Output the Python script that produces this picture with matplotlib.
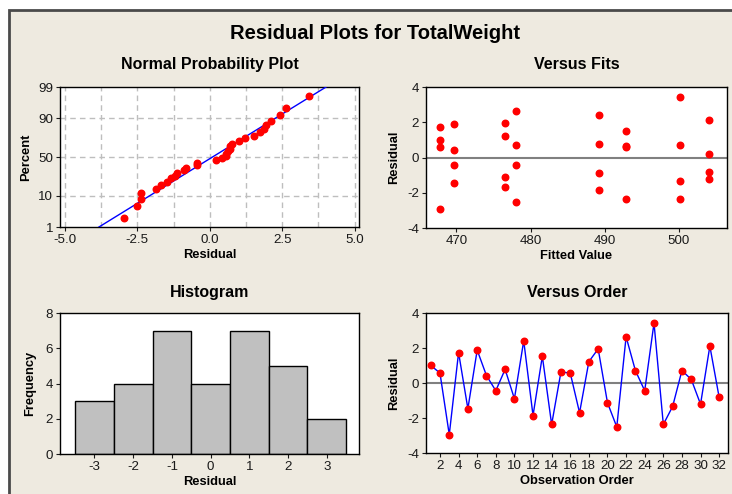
import matplotlib
matplotlib.use("Agg")
import matplotlib.pyplot as plt
import numpy as np
from statistics import NormalDist
from matplotlib.patches import Rectangle

# ---------------- data ----------------
observation = list(range(1, 33))
residuals = [1.01, 0.57, -2.95, 1.74, -1.47, 1.88, 0.42, -0.44,
             0.78, -0.90, 2.41, -1.86, 1.53, -2.37, 0.63, 0.57,
             -1.70, 1.22, 1.95, -1.13, -2.51, 2.64, 0.71, -0.44,
             3.43, -2.37, -1.34, 0.71, 0.21, -1.21, 2.11, -0.82]
fitted = [467.8, 467.8, 467.8, 467.8, 469.7, 469.7, 469.7, 469.7,
          489.2, 489.2, 489.2, 489.2, 492.9, 492.9, 492.9, 492.9,
          476.5, 476.5, 476.5, 476.5, 478.1, 478.1, 478.1, 478.1,
          500.2, 500.2, 500.2, 500.2, 504.1, 504.1, 504.1, 504.1]
hist_mid = [-3, -2, -1, 0, 1, 2, 3]
hist_counts = [3, 4, 7, 4, 7, 5, 2]
pct_ticks = [1, 10, 50, 90, 99]

BEIGE = "#EEEAE0"
plt.rcParams['font.family'] = ['Liberation Sans', 'DejaVu Sans']
plt.rcParams['axes.unicode_minus'] = False

fig = plt.figure(figsize=(7.32, 4.94), dpi=100)
fig.patch.set_facecolor("white")
W, H = 732.0, 494.0
fig.patches.append(Rectangle((8.5 / W, -0.05), 1.1, (494 - 9.5) / H + 0.05,
                             transform=fig.transFigure, facecolor=BEIGE,
                             edgecolor="#4a4a4a", linewidth=2, zorder=-10))

def axbox(l, t, r, b):
    return fig.add_axes([l / W, 1 - b / H, (r - l) / W, (b - t) / H])

TICK_FS = 9.6
LAB_FS = 9.3
TITLE_FS = 11.5
MS = 4.7

def style(ax):
    ax.set_facecolor("white")
    for s in ax.spines.values():
        s.set_color("black")
        s.set_linewidth(1.0)
    ax.tick_params(axis='both', direction='out', length=3, width=0.8,
                   labelsize=TICK_FS, colors='#1a1a1a', pad=2)
    ax.tick_params(top=False, right=False)

fig.text(375 / W, 1 - 39.4 / H, "Residual Plots for TotalWeight", ha='center', va='baseline',
         fontsize=14.5, fontweight='bold')

# ---- Normal probability plot ----
ax1 = axbox(60, 87, 359, 227)
style(ax1)
nd = NormalDist()
r_sorted = np.sort(np.array(residuals))
n = len(r_sorted)
p = (np.arange(1, n + 1) - 0.3) / (n + 0.4)
z = np.array([nd.inv_cdf(v) for v in p])
mu = float(np.mean(residuals))
sd = float(np.std(residuals, ddof=1))
zl = np.array([nd.inv_cdf(0.01), nd.inv_cdf(0.99)])
ax1.plot(mu + sd * zl, zl, color="#0000FF", lw=1.0, zorder=3)
ax1.plot(r_sorted, z, 'o', color="#FF0000", ms=MS, mec="#FF0000", zorder=4)
ax1.set_xlim(-5.17, 5.15)
ax1.set_ylim(nd.inv_cdf(0.01), nd.inv_cdf(0.99))
ax1.set_xticks([-5.0, -2.5, 0.0, 2.5, 5.0])
ax1.set_xticklabels(["-5.0", "-2.5", "0.0", "2.5", "5.0"])
ax1.set_yticks([nd.inv_cdf(v / 100) for v in pct_ticks])
ax1.set_yticklabels([str(v) for v in pct_ticks])
for gx in np.arange(-5, 5.01, 1.25):
    ax1.axvline(gx, color="#BEBEBE", lw=1.0, ls=(0, (4, 3)), zorder=1)
for gp in [10, 50, 90]:
    ax1.axhline(nd.inv_cdf(gp / 100), color="#BEBEBE", lw=1.0, ls=(0, (4, 3)), zorder=1)
ax1.set_title("Normal Probability Plot", fontsize=TITLE_FS, fontweight='bold', pad=13)
ax1.set_xlabel("Residual", fontsize=LAB_FS, fontweight='bold', labelpad=2)
ax1.set_ylabel("Percent", fontsize=LAB_FS, fontweight='bold', labelpad=4)

# ---- Versus Fits ----
ax2 = axbox(426, 87, 727, 228)
style(ax2)
ax2.axhline(0, color="#808080", lw=1.5, zorder=1)
ax2.plot(fitted, residuals, 'o', color="#FF0000", ms=MS, zorder=3)
ax2.set_xlim(465.9, 506.5)
ax2.set_ylim(-4, 4)
ax2.set_xticks([470, 480, 490, 500])
ax2.set_yticks([-4, -2, 0, 2, 4])
ax2.set_title("Versus Fits", fontsize=TITLE_FS, fontweight='bold', pad=13)
ax2.set_xlabel("Fitted Value", fontsize=LAB_FS, fontweight='bold', labelpad=2)
ax2.set_ylabel("Residual", fontsize=LAB_FS, fontweight='bold', labelpad=5)

# ---- Histogram ----
ax3 = axbox(60, 313, 359, 454)
style(ax3)
ax3.bar(hist_mid, hist_counts, width=1.0, color="#C0C0C0", edgecolor="black", linewidth=1.0, zorder=2)
ax3.set_xlim(-3.89, 3.83)
ax3.set_ylim(0, 8)
ax3.set_xticks(hist_mid)
ax3.set_yticks([0, 2, 4, 6, 8])
ax3.set_title("Histogram", fontsize=TITLE_FS, fontweight='bold', pad=11.5)
ax3.set_xlabel("Residual", fontsize=LAB_FS, fontweight='bold', labelpad=2)
ax3.set_ylabel("Frequency", fontsize=LAB_FS, fontweight='bold', labelpad=7)

# ---- Versus Order ----
ax4 = axbox(426, 313, 728, 453)
style(ax4)
ax4.axhline(0, color="#808080", lw=1.5, zorder=1)
ax4.plot(observation, residuals, '-', color="#0000FF", lw=1.0, zorder=2)
ax4.plot(observation, residuals, 'o', color="#FF0000", ms=MS, zorder=3)
ax4.set_xlim(0.5, 32.95)
ax4.set_ylim(-4, 4)
ax4.set_xticks(list(range(2, 33, 2)))
ax4.set_yticks([-4, -2, 0, 2, 4])
ax4.set_title("Versus Order", fontsize=TITLE_FS, fontweight='bold', pad=11.5)
ax4.set_xlabel("Observation Order", fontsize=LAB_FS, fontweight='bold', labelpad=2)
ax4.set_ylabel("Residual", fontsize=LAB_FS, fontweight='bold', labelpad=5)

fig.savefig("out.png", dpi=100, facecolor=fig.get_facecolor())
